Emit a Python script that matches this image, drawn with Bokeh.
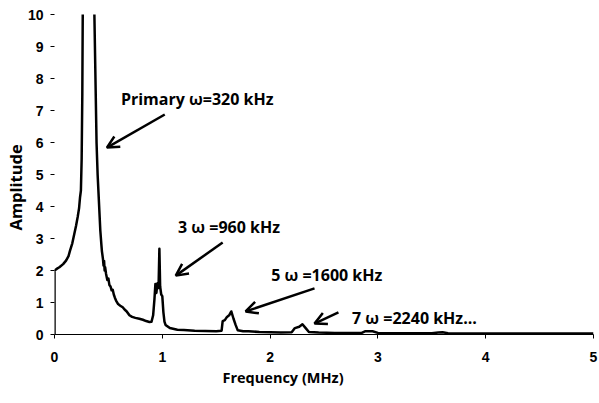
from bokeh.plotting import figure
from bokeh.models import Range1d, Label, Arrow, OpenHead, FixedTicker, Title
from bokeh.embed import file_html
from bokeh.resources import INLINE

# ---- data ----
freq = [0.0, 0.0, 0.02, 0.045, 0.08, 0.107, 0.13, 0.144, 0.165, 0.184,
        0.2, 0.215, 0.228, 0.237, 0.245, 0.252, 0.258, 0.262, 0.28, 0.30,
        0.32, 0.34, 0.36, 0.37, 0.38, 0.39, 0.40, 0.41, 0.425, 0.435,
        0.44, 0.45, 0.455, 0.46, 0.465, 0.47, 0.478, 0.49, 0.50, 0.509,
        0.52, 0.53, 0.54, 0.55, 0.56, 0.571, 0.59, 0.61, 0.633, 0.65,
        0.67, 0.695, 0.72, 0.75, 0.787, 0.82, 0.85, 0.88, 0.9, 0.915,
        0.927, 0.936, 0.945, 0.955, 0.965, 0.973, 0.98, 0.99, 1.0, 1.01,
        1.02, 1.03, 1.05, 1.07, 1.1, 1.14, 1.2, 1.3, 1.4, 1.5,
        1.55, 1.56, 1.58, 1.6, 1.62, 1.64, 1.66, 1.68, 1.7, 1.75,
        1.8, 1.9, 2.0, 2.1, 2.2, 2.23, 2.27, 2.3, 2.33, 2.36,
        2.45, 2.6, 2.75, 2.85, 2.88, 2.95, 3.0, 3.1, 3.3, 3.5,
        3.56, 3.6, 3.65, 3.8, 4.0, 4.3, 4.6, 5.0]
amp = [0.0, 2.0, 2.05, 2.1, 2.2, 2.31, 2.45, 2.62, 2.85, 3.15,
       3.4, 3.67, 3.95, 4.29, 4.5, 5.5, 7.5, 10.0, 13.0, 16.0,
       18.0, 16.0, 12.0, 10.0, 8.0, 6.0, 5.0, 4.3, 3.25, 2.8,
       2.6, 2.35, 2.15, 2.3, 2.0, 2.1, 1.9, 1.7, 1.75, 1.55,
       1.5, 1.38, 1.4, 1.25, 1.15, 1.06, 0.95, 0.9, 0.85, 0.78,
       0.72, 0.6, 0.55, 0.52, 0.49, 0.46, 0.42, 0.39, 0.4, 0.6,
       1.1, 1.58, 1.3, 1.6, 1.45, 2.68, 1.5, 1.25, 1.2, 0.7,
       0.4, 0.3, 0.25, 0.2, 0.18, 0.15, 0.14, 0.12, 0.11, 0.1,
       0.12, 0.42, 0.45, 0.55, 0.6, 0.72, 0.5, 0.3, 0.13, 0.1,
       0.1, 0.08, 0.07, 0.06, 0.07, 0.2, 0.24, 0.32, 0.2, 0.08,
       0.06, 0.05, 0.05, 0.05, 0.1, 0.1, 0.05, 0.04, 0.04, 0.04,
       0.06, 0.07, 0.04, 0.03, 0.03, 0.03, 0.03, 0.03]

x_ticks = [0, 1, 2, 3, 4, 5]
y_ticks = [0, 1, 2, 3, 4, 5, 6, 7, 8, 9, 10]

note_text = ["Primary \u03c9=320 kHz", "3 \u03c9 =960 kHz", "5 \u03c9 =1600 kHz", "7 \u03c9 =2240 kHz..."]
note_x = [0.616, 1.146, 2.01, 2.76]
note_y = [7.36, 3.36, 1.87, 0.51]
arrow_x0 = [1.023, 1.56, 2.412, 2.634]
arrow_y0 = [6.875, 2.875, 1.44, 0.69]
arrow_x1 = [0.486, 1.125, 1.773, 2.412]
arrow_y1 = [5.84, 1.84, 0.72, 0.34]

x_label = "Frequency (MHz)"
y_label = "Amplitude"

FONT = "Open Sans"

p = figure(width=598, height=402, output_backend="svg", toolbar_location=None,
           x_range=Range1d(0, 5), y_range=Range1d(0, 10))
p.min_border_left = 54
p.min_border_right = 5
p.min_border_top = 14
p.min_border_bottom = 68
p.outline_line_color = None
p.background_fill_color = "white"
p.border_fill_color = "white"
p.grid.visible = False

p.line(freq, amp, line_color="black", line_width=2.5, line_join="round")

for ax in (p.xaxis[0], p.yaxis[0]):
    ax.major_label_text_font = "Liberation Sans"
    ax.major_label_text_font_style = "bold"
    ax.major_label_text_font_size = "14px"
    ax.major_label_text_color = "black"
    ax.major_tick_in = 0
    ax.major_tick_out = 4
    ax.minor_tick_in = 0
    ax.minor_tick_out = 0
    ax.major_tick_line_color = "black"

p.xaxis.ticker = FixedTicker(ticks=x_ticks)
p.yaxis.ticker = FixedTicker(ticks=y_ticks)
p.xaxis.axis_line_color = "black"
p.xaxis.axis_line_width = 1
p.yaxis.axis_line_color = None
p.xaxis.major_label_standoff = 13
p.yaxis.major_label_standoff = 7

p.add_layout(Title(text=x_label, align="left", offset=168, text_font=FONT,
                   text_font_style="bold", text_font_size="14.5px", text_color="black",
                   standoff=3), "below")
p.add_layout(Title(text=y_label, align="left", offset=104, text_font=FONT,
                   text_font_style="bold", text_font_size="16.5px", text_color="black",
                   standoff=-5), "left")

for t, tx, ty in zip(note_text, note_x, note_y):
    p.add_layout(Label(x=tx, y=ty, text=t, text_align="left", text_baseline="alphabetic",
                       text_font=FONT, text_font_style="bold", text_font_size="16px",
                       text_color="black"))

for xs, ys, xe, ye in zip(arrow_x0, arrow_y0, arrow_x1, arrow_y1):
    p.add_layout(Arrow(end=OpenHead(size=12, line_width=2.5, line_color="black"),
                       x_start=xs, y_start=ys, x_end=xe, y_end=ye,
                       line_width=2.5, line_color="black"))

open("out.html", "w").write(file_html(p, INLINE))
